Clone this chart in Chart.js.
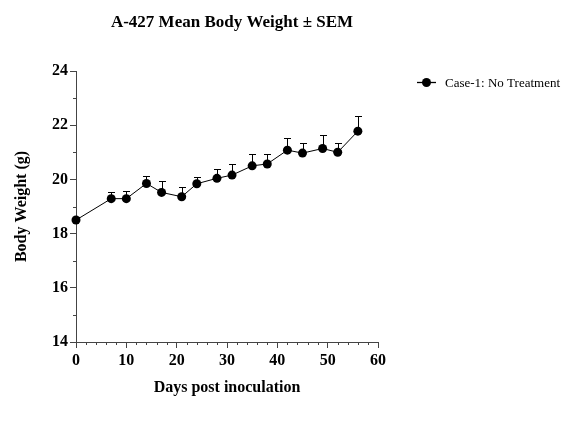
<!DOCTYPE html>
<html><head><meta charset="utf-8">
<script src="https://cdn.jsdelivr.net/npm/chart.js@4/dist/chart.umd.min.js"></script>
<style>html,body{margin:0;padding:0;background:#fff}#wrap{width:580px;height:427px}</style>
</head><body><div id="wrap"><canvas id="c" width="580" height="427"></canvas></div>
<script>
const days = [0, 7, 10, 14, 17, 21, 24, 28, 31, 35, 38, 42, 45, 49, 52, 56];
const meanWeight = [18.50, 19.29, 19.29, 19.85, 19.52, 19.36, 19.84, 20.04, 20.16, 20.50, 20.57, 21.08, 20.97, 21.14, 21.00, 21.78];
const semWeight = [0.10, 0.24, 0.29, 0.28, 0.43, 0.37, 0.26, 0.33, 0.39, 0.43, 0.36, 0.43, 0.38, 0.49, 0.36, 0.55];
const xTicks = [0, 10, 20, 30, 40, 50, 60];
const yTicks = [14, 16, 18, 20, 22, 24];
const xMinorTicks = [2, 4, 6, 8, 12, 14, 16, 18, 22, 24, 26, 28, 32, 34, 36, 38, 42, 44, 46, 48, 52, 54, 56, 58];
const yMinorTicks = [15, 17, 19, 21, 23];
const seriesName = 'Case-1: No Treatment';
const chartTitle = 'A-427 Mean Body Weight \u00B1 SEM';
const xTitle = 'Days post inoculation';
const yTitle = 'Body Weight (g)';

const FONT = "'Liberation Serif', 'Times New Roman', serif";
const AXIS = '#444';

const errorBars = {
  id: 'errorBars',
  beforeDatasetsDraw(chart) {
    const xs = chart.scales.x, ys = chart.scales.y, ctx = chart.ctx;
    ctx.save();
    ctx.strokeStyle = '#000';
    ctx.lineWidth = 1;
    days.forEach((d, i) => {
      const x = Math.round(xs.getPixelForValue(d)) + 0.5;
      const y0 = ys.getPixelForValue(meanWeight[i]);
      const y1 = Math.round(ys.getPixelForValue(meanWeight[i] + semWeight[i])) + 0.5;
      ctx.beginPath();
      ctx.moveTo(x, y0); ctx.lineTo(x, y1);
      ctx.moveTo(x - 3.5, y1); ctx.lineTo(x + 3.5, y1);
      ctx.stroke();
    });
    ctx.restore();
  }
};

const extras = {
  id: 'extras',
  afterDraw(chart) {
    const xs = chart.scales.x, ys = chart.scales.y, ctx = chart.ctx;
    const area = chart.chartArea;
    ctx.save();
    ctx.strokeStyle = AXIS;
    ctx.lineWidth = 1;
    ctx.beginPath();
    xMinorTicks.forEach(v => {
      const x = Math.round(xs.getPixelForValue(v)) + 0.5;
      ctx.moveTo(x, area.bottom); ctx.lineTo(x, area.bottom + 3);
    });
    yMinorTicks.forEach(v => {
      const y = Math.round(ys.getPixelForValue(v)) + 0.5;
      ctx.moveTo(area.left, y); ctx.lineTo(area.left - 3, y);
    });
    ctx.stroke();

    // title
    ctx.fillStyle = '#000';
    ctx.font = "bold 17px " + FONT;
    ctx.textAlign = 'center';
    ctx.textBaseline = 'alphabetic';
    ctx.fillText(chartTitle, 232, 27);

    // legend
    ctx.strokeStyle = '#000';
    ctx.lineWidth = 1.3;
    ctx.beginPath();
    ctx.moveTo(417, 82.5); ctx.lineTo(436, 82.5);
    ctx.stroke();
    ctx.beginPath();
    ctx.arc(426.5, 82.5, 4.5, 0, Math.PI * 2);
    ctx.fill();
    ctx.font = "13px " + FONT;
    ctx.textAlign = 'left';
    ctx.fillText(seriesName, 445, 87);
    ctx.restore();
  }
};

new Chart(document.getElementById('c'), {
  type: 'line',
  data: {
    datasets: [{
      label: seriesName,
      data: days.map((d, i) => ({ x: d, y: meanWeight[i] })),
      borderColor: '#000',
      borderWidth: 1,
      backgroundColor: '#000',
      pointBackgroundColor: '#000',
      pointBorderColor: '#000',
      pointBorderWidth: 0,
      pointRadius: 4.5,
      tension: 0,
      fill: false,
      clip: false
    }]
  },
  options: {
    responsive: false,
    devicePixelRatio: 1,
    animation: false,
    layout: { padding: { top: 71, right: 202, left: 0, bottom: 0 } },
    plugins: { legend: { display: false }, title: { display: false }, tooltip: { enabled: false } },
    scales: {
      x: {
        type: 'linear', min: 0, max: 60,
        afterBuildTicks: s => { s.ticks = xTicks.map(v => ({ value: v })); },
        afterFit: s => { s.height = 85; },
        grid: { drawOnChartArea: false, drawTicks: true, tickLength: 6, tickColor: AXIS, color: AXIS },
        border: { display: true, color: AXIS, width: 1 },
        ticks: { color: '#000', font: { family: FONT, size: 16, weight: 'bold' }, padding: 3, maxRotation: 0 },
        title: { display: true, text: xTitle, color: '#000', font: { family: FONT, size: 16, weight: 'bold' }, padding: { top: 0, bottom: 30 } }
      },
      y: {
        type: 'linear', min: 14, max: 24,
        afterBuildTicks: s => { s.ticks = yTicks.map(v => ({ value: v })); },
        afterFit: s => { s.width = 76; },
        grid: { drawOnChartArea: false, drawTicks: true, tickLength: 6, tickColor: AXIS, color: AXIS },
        border: { display: true, color: AXIS, width: 1 },
        ticks: { color: '#000', font: { family: FONT, size: 16, weight: 'bold' }, padding: 2 },
        title: { display: true, text: yTitle, color: '#000', font: { family: FONT, size: 16, weight: 'bold' }, padding: { top: 12, bottom: 0 } }
      }
    }
  },
  plugins: [errorBars, extras]
});
</script>
</body></html>
